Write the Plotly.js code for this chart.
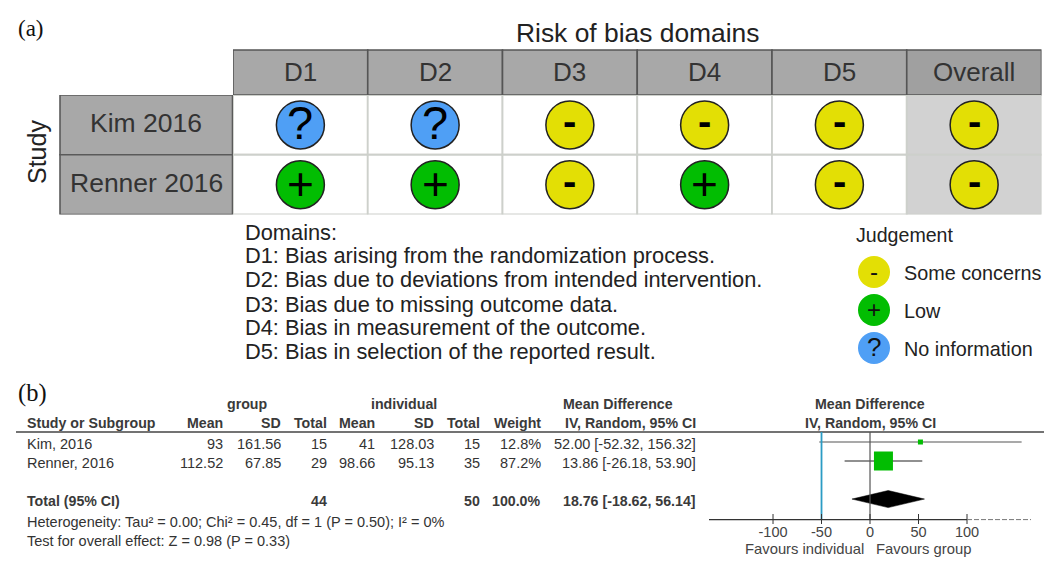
<!DOCTYPE html>
<html><head><meta charset="utf-8">
<script src="https://cdn.plot.ly/plotly-3.0.1.min.js"></script>
<style>html,body{margin:0;padding:0;background:#fff}#c{width:1055px;height:571px}</style>
</head><body><div id="c"></div>
<script>
// ---- panel (a) data ----
const domains = ["D1","D2","D3","D4","D5","Overall"];
const robStudies = ["Kim 2016","Renner 2016"];
const kimJudgement = ["?","?","-","-","-","-"];
const rennerJudgement = ["+","+","-","+","-","-"];
const domainNotes = ["Domains:",
 "D1: Bias arising from the randomization process.",
 "D2: Bias due to deviations from intended intervention.",
 "D3: Bias due to missing outcome data.",
 "D4: Bias in measurement of the outcome.",
 "D5: Bias in selection of the reported result."];
const legendSymbols = ["-","+","?"];
const legendLabels = ["Some concerns","Low","No information"];
// ---- panel (b) data ----
const forestStudies = ["Kim, 2016","Renner, 2016"];
const groupMean = ["93","112.52"];
const groupSD = ["161.56","67.85"];
const groupTotal = ["15","29"];
const indivMean = ["41","98.66"];
const indivSD = ["128.03","95.13"];
const indivTotal = ["15","35"];
const weightText = ["12.8%","87.2%"];
const ciText = ["52.00 [-52.32, 156.32]","13.86 [-26.18, 53.90]"];
const md = [52.00,13.86];
const ciLow = [-52.32,-26.18];
const ciHigh = [156.32,53.90];
const squareSize = [5,19];
const totalMD = 18.76, totalLow = -18.62, totalHigh = 56.14;
const forestTicks = [-100,-50,0,50,100];
const W=1055,H=571;
const px=x=>x/W, py=y=>1-y/H;
const colour={"?":"#4f9ff5","+":"#02bd02","-":"#e3df05"};
const anns=[];
const F=(size,color,fam)=>({family:fam||'Liberation Sans',size:size,color:color||'#333'});
function T(x,y,text,o){
  o=o||{};
  const a=o.xanchor||'left';
  const dx=a==='left'?-1:(a==='right'?0.5:0);
  anns.push(Object.assign({xref:'paper',yref:'paper',x:px(x+dx),y:py(y),text:text,showarrow:false,
  xanchor:a,yanchor:'middle',borderpad:0,font:F(14.5,'#333')},o));}
const shapes=[];

// panel labels
T(18,29,"(a)",{font:F(23,'#111','Liberation Serif')});
T(18,393,"(b)",{font:F(24.5,'#111','Liberation Serif')});
T(637,33,"Risk of bias domains",{xanchor:'center',font:F(26.4,'#222')});
T(37,152,"Study",{xanchor:'center',textangle:-90,font:F(25,'#222')});

// panel (a) grid
domains.forEach((d,i)=>{
  shapes.push({type:'rect',xref:'x',yref:'paper',x0:i-.5,x1:i+.5,y0:py(95),y1:py(50),fillcolor:i<5?'#a8a8a8':'#a0a0a0',line:{color:'#555',width:1.6},layer:'below'});
  [0,1].forEach(r=>shapes.push({type:'rect',xref:'x',yref:'y',x0:i-.5,x1:i+.5,y0:r-.5,y1:r+.5,fillcolor:i==5?'#d2d2d2':'#fff',line:{color:'#cdd0cb',width:1.8},layer:'below'}));
  anns.push({xref:'x',yref:'paper',x:i,y:py(72),text:d,showarrow:false,xanchor:'center',yanchor:'middle',font:F(26,'#333')});
});
robStudies.forEach((s,r)=>{
  shapes.push({type:'rect',xref:'paper',yref:'y',x0:px(60),x1:px(232.5),y0:r-.5,y1:r+.5,fillcolor:'#a8a8a8',line:{color:'#5a5a5a',width:1.6},layer:'below'});
  anns.push({xref:'paper',yref:'y',x:px(146),y:r,text:s,showarrow:false,xanchor:'center',yanchor:'middle',yshift:1.5,font:F(26.5,'#333')});
});
const rows=[kimJudgement,rennerJudgement];
const xs=[],ys=[],js=[];
rows.forEach((row,r)=>row.forEach((j,i)=>{xs.push(i);ys.push(r);js.push(j);}));
const glyph={"?":{s:47,b:0,sh:2},"+":{s:46,b:0,sh:1},"-":{s:40,b:1,sh:4}};
const traces=[{type:'scatter',mode:'markers',x:xs,y:ys,
  marker:{size:48,color:js.map(j=>colour[j]),line:{color:'#222',width:1.5}},xaxis:'x',yaxis:'y',hoverinfo:'skip',cliponaxis:false}];
js.forEach((j,k)=>{const g=glyph[j];anns.push({xref:'x',yref:'y',x:xs[k],y:ys[k],text:g.b?'<b>'+j+'</b>':j,showarrow:false,
  xanchor:'center',yanchor:'middle',yshift:g.sh,font:F(g.s,'#000')});});

// domain notes
const noteY=[232,255,279,304,328,351];
domainNotes.forEach((t,i)=>T(245,noteY[i],t,{font:F(21.8,'#222')}));

// legend
T(856,235,"Judgement",{font:F(19.6,'#222')});
traces.push({type:'scatter',mode:'markers',x:legendSymbols.map(()=>0),y:legendSymbols.map((s,i)=>i),
  marker:{size:32,color:legendSymbols.map(s=>colour[s]),line:{width:0}},xaxis:'x3',yaxis:'y3',hoverinfo:'skip',cliponaxis:false});
const legGlyph={"-":{s:24,sh:1},"+":{s:24,sh:1},"?":{s:26,sh:1}};
legendSymbols.forEach((s,i)=>anns.push({xref:'x3',yref:'y3',x:0,y:i,text:s,showarrow:false,xanchor:'center',yanchor:'middle',yshift:legGlyph[s].sh,font:F(legGlyph[s].s,'#111')}));
const legY=[273,311,349];
legendLabels.forEach((t,i)=>T(904,legY[i],t,{font:F(19.8,'#222')}));

// panel (b) table
const B=s=>'<b>'+s+'</b>';
const bold=F(14.2,'#3a3a3a');
T(247,404,B("group"),{xanchor:'center',font:bold});
T(404,404,B("individual"),{xanchor:'center',font:bold});
T(618,404,B("Mean Difference"),{xanchor:'center',font:bold});
T(870,404,B("Mean Difference"),{xanchor:'center',font:bold});
T(27,423,B("Study or Subgroup"),{font:bold});
[["Mean",223.5],["SD",281],["Total",327],["Mean",375.5],["SD",434],["Total",480],["Weight",541],["IV, Random, 95% CI",696.5]].forEach(c=>T(c[1],423,B(c[0]),{xanchor:'right',font:bold}));
T(870,423,B("IV, Random, 95% CI"),{xanchor:'center',font:bold});
const rowY=[444,463];
forestStudies.forEach((s,i)=>{
  T(27,rowY[i],s);
  [[groupMean,223.5],[groupSD,281],[groupTotal,327],[indivMean,375.5],[indivSD,434],[indivTotal,480],[weightText,541],[ciText,696.5]].forEach(c=>T(c[1],rowY[i],c[0][i],{xanchor:'right'}));
});
T(27,501,B("Total (95% CI)"),{font:bold});
T(327,501,B("44"),{xanchor:'right',font:bold});
T(480,501,B("50"),{xanchor:'right',font:bold});
T(541,501,B("100.0%"),{xanchor:'right',font:bold});
T(696.5,501,B("18.76 [-18.62, 56.14]"),{xanchor:'right',font:bold});
T(27,522,"Heterogeneity: Tau² = 0.00; Chi² = 0.45, df = 1 (P = 0.50); I² = 0%");
T(27,541,"Test for overall effect: Z = 0.98 (P = 0.33)");
T(804,549,"Favours individual",{xanchor:'center',font:F(14.8,'#444')});
T(923,549,"Favours group",{xanchor:'center',font:F(14.8,'#444')});

// header rule
shapes.push({type:'line',xref:'paper',yref:'paper',x0:px(16),x1:px(1044),y0:py(432),y1:py(432),line:{color:'#444',width:1.3}});
// reference lines (data coordinates on forest axis)
shapes.push({type:'line',xref:'x2',yref:'paper',x0:0,x1:0,y0:py(432),y1:py(519.6),line:{color:'#555',width:1.2}});
shapes.push({type:'line',xref:'x2',yref:'paper',x0:-50,x1:-50,y0:py(432),y1:py(519.6),line:{color:'#2b9cc4',width:1.8}});
// ticks crossing the axis line
forestTicks.forEach(t=>shapes.push({type:'line',xref:'x2',yref:'paper',x0:t,x1:t,y0:py(514),y1:py(524),line:{color:'#333',width:1}}));
// axis line, solid then broken
shapes.push({type:'line',xref:'x2',yref:'paper',x0:100,x1:166,y0:py(519.6),y1:py(519.6),line:{color:'#777',width:1,dash:'5px,2px'}});
shapes.push({type:'line',xref:'x2',yref:'paper',x0:-166,x1:100,y0:py(519.6),y1:py(519.6),line:{color:'#333',width:1.2}});

// forest marks
forestStudies.forEach((s,i)=>{
  traces.push({type:'scatter',mode:'lines',x:[ciLow[i],ciHigh[i]],y:[i,i],line:{color:i==0?'#555':'#222',width:1.1},xaxis:'x2',yaxis:'y2',hoverinfo:'skip'});
});
traces.push({type:'scatter',mode:'markers',x:md,y:[0,1],marker:{symbol:'square',size:squareSize,color:'#02bd02',opacity:1,line:{width:0}},xaxis:'x2',yaxis:'y2',hoverinfo:'skip'});
traces.push({type:'scatter',mode:'lines',x:[totalLow,totalMD,totalHigh,totalMD,totalLow],y:[3,2.55,3,3.45,3],fill:'toself',fillcolor:'#000',line:{color:'#000',width:0.5},xaxis:'x2',yaxis:'y2',hoverinfo:'skip'});

const layout={width:W,height:H,margin:{l:0,r:0,t:0,b:0},paper_bgcolor:'#fff',plot_bgcolor:'rgba(0,0,0,0)',showlegend:false,
 xaxis:{domain:[px(233),px(1041.5)],range:[-.5,5.5],visible:false,fixedrange:true},
 yaxis:{domain:[py(214.5),py(95)],range:[1.5,-.5],visible:false,fixedrange:true},
 xaxis2:{domain:[px(709),px(1031.5)],range:[-166,166.5],anchor:'y2',showgrid:false,zeroline:false,showline:false,tickvals:forestTicks,ticktext:forestTicks.map(String),ticks:'',
   tickfont:F(14.5,'#444'),ticklabelstandoff:2,fixedrange:true},
 yaxis2:{domain:[py(519.6),py(432)],range:[4.08,-.526],anchor:'x2',visible:false,fixedrange:true},
 xaxis3:{domain:[px(849),px(899)],range:[-1,1],anchor:'y3',visible:false,fixedrange:true},
 yaxis3:{domain:[py(367),py(253)],range:[2.5,-.5],anchor:'x3',visible:false,fixedrange:true},
 shapes:shapes,annotations:anns,font:{family:'Liberation Sans'}};
Plotly.newPlot('c',traces,layout,{displayModeBar:false,staticPlot:true});
</script></body></html>
